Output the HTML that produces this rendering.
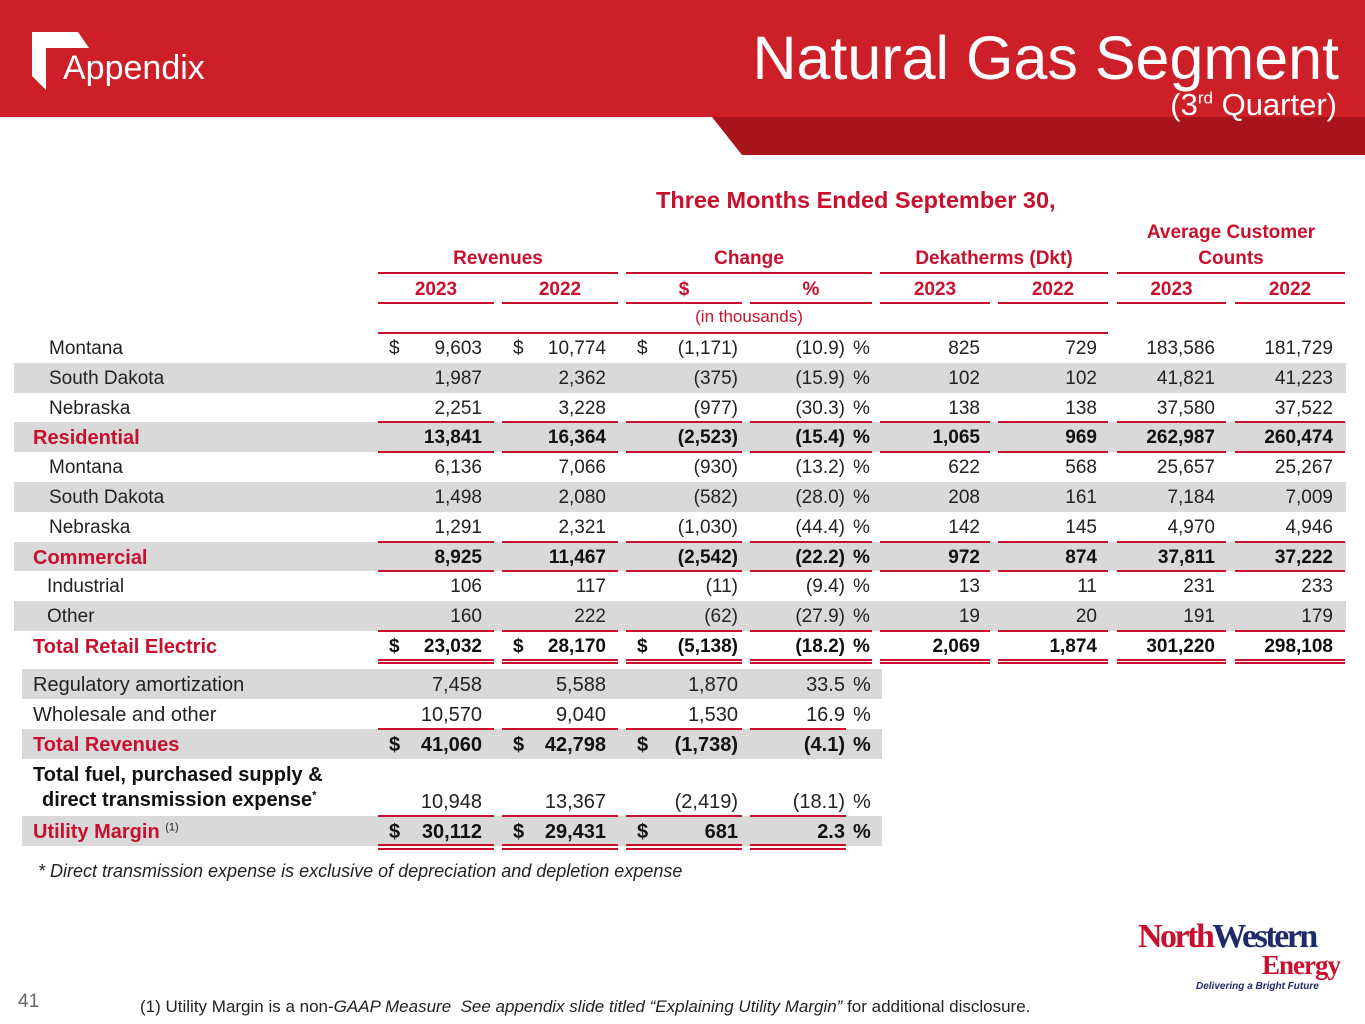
<!DOCTYPE html>
<html><head><meta charset="utf-8">
<style>
*{margin:0;padding:0;box-sizing:border-box}
body{width:1365px;height:1024px;position:relative;overflow:hidden;background:#fff;font-family:"Liberation Sans",sans-serif;color:#222}
.abs{position:absolute}
.band{position:absolute;background:#d9d9d9}
.ln{position:absolute;height:2px;background:#c8102e}
.t{position:absolute;white-space:nowrap;line-height:1;font-size:19px}
.r{text-align:right}
.hd{color:#c8102e;font-weight:bold;font-size:19px}
.red{color:#c8102e}
.b{font-weight:bold;color:#111}
.n{font-family:"Liberation Sans Narrow","Liberation Sans",sans-serif}
</style></head><body>
<div class="abs" style="left:0;top:0;width:1365px;height:117px;background:#cc1f27"></div>
<svg class="abs" style="left:0;top:117px" width="1365" height="40"><polygon points="712,0 1365,0 1365,38 742,38" fill="#a8141b"/></svg>
<svg class="abs" style="left:30px;top:30px" width="62" height="62"><polygon points="2,2 48,2 59,18 16,18 16,60 2,46" fill="#fff"/></svg>
<div class="t" style="left:63px;top:51px;font-size:34px;color:#fff">Appendix</div>
<div class="t r" style="right:26px;top:28px;font-size:61px;color:#fff">Natural Gas Segment</div>
<div class="t r" style="right:28px;top:89px;font-size:31px;color:#fff">(3<sup style="font-size:17px">rd</sup> Quarter)</div>

<div class="t hd" style="left:656px;top:189px;font-size:23.5px">Three Months Ended September 30,</div>
<div id="tbl"></div>

<div class="t n" style="left:38px;top:862px;font-size:18px;font-style:italic">* Direct transmission expense is exclusive of depreciation and depletion expense</div>
<div class="t" style="left:18px;top:992px;font-size:19px;color:#666">41</div>
<div class="t n" style="left:140px;top:998px;font-size:17px">(1) Utility Margin is a non-<i>GAAP Measure&nbsp; See appendix slide titled “Explaining Utility Margin”</i> for additional disclosure.</div>
<div class="abs" style="left:1138px;top:920px;width:200px;height:80px">
<div class="t" style="left:0;top:0;font-family:'Liberation Serif',serif;font-size:34px;letter-spacing:-2.5px;font-weight:bold"><span style="color:#c8102e">North</span><span style="color:#1f2a6b">Western</span></div>
<div class="t" style="left:124px;top:32px;font-family:'Liberation Serif',serif;font-size:27px;color:#c8102e;letter-spacing:-1px;font-weight:bold">Energy</div>
<div class="t" style="left:58px;top:62px;font-size:10px;font-weight:bold;font-style:italic;color:#1f2a6b">Delivering a Bright Future</div>
</div>

<script>
const rowLabels=["Montana","South Dakota","Nebraska","Residential","Montana","South Dakota","Nebraska","Commercial","Industrial","Other","Total Retail Electric"];
const rev2023=["9,603","1,987","2,251","13,841","6,136","1,498","1,291","8,925","106","160","23,032"];
const rev2022=["10,774","2,362","3,228","16,364","7,066","2,080","2,321","11,467","117","222","28,170"];
const chgDollar=["(1,171)","(375)","(977)","(2,523)","(930)","(582)","(1,030)","(2,542)","(11)","(62)","(5,138)"];
const chgPct=["(10.9)","(15.9)","(30.3)","(15.4)","(13.2)","(28.0)","(44.4)","(22.2)","(9.4)","(27.9)","(18.2)"];
const dkt2023=["825","102","138","1,065","622","208","142","972","13","19","2,069"];
const dkt2022=["729","102","138","969","568","161","145","874","11","20","1,874"];
const cust2023=["183,586","41,821","37,580","262,987","25,657","7,184","4,970","37,811","231","191","301,220"];
const cust2022=["181,729","41,223","37,522","260,474","25,267","7,009","4,946","37,222","233","179","298,108"];
const lowLabels=["Regulatory amortization","Wholesale and other","Total Revenues","Total fuel, purchased supply &","Utility Margin"];
const lowRev2023=["7,458","10,570","41,060","10,948","30,112"];
const lowRev2022=["5,588","9,040","42,798","13,367","29,431"];
const lowChgDollar=["1,870","1,530","(1,738)","(2,419)","681"];
const lowChgPct=["33.5","16.9","(4.1)","(18.1)","2.3"];

const T=document.getElementById('tbl');
function mk(cls,style,txt,name){const d=document.createElement('div');d.className=cls;d.style.cssText=style;if(txt!==undefined)d.innerHTML=txt;


T.appendChild(d);return d;}
const colR=[482,606,738,845,980,1097,1215,1333];
const segs=[[378,494],[502,618],[626,742],[750,872],[880,990],[998,1108],[1117,1226],[1235,1345]];
[["Revenues",378,618],["Change",626,872],["Dekatherms (Dkt)",880,1108]].forEach(h=>{
 mk('t hd',`left:${h[1]}px;width:${h[2]-h[1]}px;text-align:center;top:249px`,h[0],'group-header');
 mk('ln',`left:${h[1]}px;width:${h[2]-h[1]}px;top:272px`,'','group-header-rule');});
mk('t hd',`left:1117px;width:228px;text-align:center;top:220px;line-height:26px`,'Average Customer<br>Counts','group-header');
mk('ln','left:1117px;width:228px;top:272px','','group-header-rule');
["2023","2022","$","%","2023","2022","2023","2022"].forEach((s,i)=>{
 mk('t hd',`left:${segs[i][0]}px;width:${segs[i][1]-segs[i][0]}px;text-align:center;top:280px`,s,'column-header');
 mk('ln',`left:${segs[i][0]}px;width:${segs[i][1]-segs[i][0]}px;top:302px`,'','column-header-rule');});
mk('t red',`left:626px;width:246px;text-align:center;top:308px;font-size:17px`,'(in thousands)','units-note');
mk('ln','left:378px;width:730px;top:332px','','units-rule');

const y0=333,rh=29.8;
const totals=[3,7,10];
rowLabels.forEach((lab,i)=>{
 const top=y0+i*rh,tot=totals.includes(i);
 if(i%2===1) mk('band',`left:14px;top:${top}px;width:1332px;height:${rh}px`,'','row-band');
 mk('t'+(tot?' hd':''),`left:${tot?33:(i>=8?47:49)}px;top:${top+6}px;font-size:${tot?20:19}px`,lab,'row-label');
 const vals=[rev2023[i],rev2022[i],chgDollar[i],chgPct[i],dkt2023[i],dkt2022[i],cust2023[i],cust2022[i]];
 vals.forEach((v,c)=>mk('t r'+(tot?' b':''),`left:${colR[c]-150}px;width:150px;top:${top+6}px`,v,'cell-value'));
 mk('t'+(tot?' b':''),`left:853px;top:${top+6}px`,'%','percent-sign');
 if(i===0||i===10){[389,513,637].forEach(x=>mk('t'+(tot?' b':''),`left:${x}px;top:${top+6}px`,'$','dollar-sign'));}
 if(tot){segs.forEach(s=>{mk('ln',`left:${s[0]}px;width:${s[1]-s[0]}px;top:${top-1}px`,'','subtotal-rule');
   if(i<10) mk('ln',`left:${s[0]}px;width:${s[1]-s[0]}px;top:${top+rh-1}px`,'','subtotal-rule');
   else {mk('ln',`left:${s[0]}px;width:${s[1]-s[0]}px;top:${top+rh-2}px`,'','double-rule');mk('ln',`left:${s[0]}px;width:${s[1]-s[0]}px;top:${top+rh+1}px`,'','double-rule');}});}
});
const lowTops=[669,699,729,760,816];
const lowH=[30,30,30,56,30];
lowLabels.forEach((lab,i)=>{
 const top=lowTops[i],tot=(i===2||i===4);
 if(i===0||tot) mk('band',`left:22px;top:${top}px;width:860px;height:${lowH[i]}px`,'','row-band');
 const ty=top+lowH[i]-24;
 if(i===3){mk('t n b',`left:33px;top:${top+5}px;font-size:20px`,lab,'row-label');
   mk('t n b',`left:42px;top:${top+30}px;font-size:20px`,'direct transmission expense<sup style="font-size:11px">*</sup>','row-label');}
 else mk('t n'+(tot?' hd':''),`left:33px;top:${ty}px;font-size:20px`,lab+(i===4?' <sup style="font-size:11px;color:#222;font-weight:normal">(1)</sup>':''),'row-label');
 [lowRev2023[i],lowRev2022[i],lowChgDollar[i],lowChgPct[i]].forEach((v,c)=>mk('t n r'+(tot?' b':''),`left:${colR[c]-150}px;width:150px;top:${ty}px;font-size:20px`,v,'cell-value'));
 mk('t n'+(tot?' b':''),`left:853px;top:${ty}px;font-size:20px`,'%','percent-sign');
 if(tot){[389,513,637].forEach(x=>mk('t n b',`left:${x}px;top:${ty}px;font-size:20px`,'$','dollar-sign'));
  segs.slice(0,4).forEach(s=>{const w=(s[1]-s[0])-(s[0]===750?26:0);
   mk('ln',`left:${s[0]}px;width:${w}px;top:${top-1}px`,'','subtotal-rule');
   if(i===4){mk('ln',`left:${s[0]}px;width:${w}px;top:${top+28}px`,'','double-rule');mk('ln',`left:${s[0]}px;width:${w}px;top:${top+32}px`,'','double-rule');}});}
});
</script>
</body></html>
